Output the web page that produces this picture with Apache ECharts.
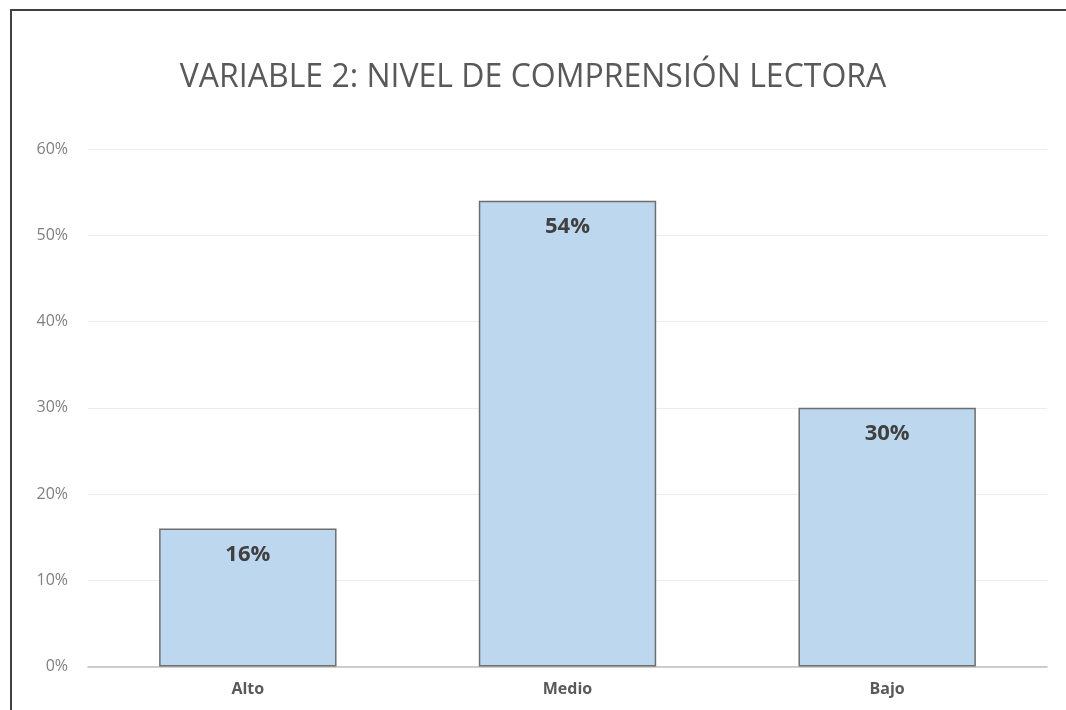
<!DOCTYPE html>
<html>
<head>
<meta charset="utf-8">
<script src="https://cdn.jsdelivr.net/npm/echarts@6/dist/echarts.min.js"></script>
<style>
html,body{margin:0;padding:0;background:#fff;}
#chart{width:1066px;height:710px;}
</style>
</head>
<body>
<div id="chart"></div>
<script>
var titleText = 'VARIABLE 2: NIVEL DE COMPRENSIÓN LECTORA';
var categories = ['Alto', 'Medio', 'Bajo'];
var values = [16, 54, 30];
var yTicks = [0, 10, 20, 30, 40, 50, 60];

var chart = echarts.init(document.getElementById('chart'));
chart.setOption({
  backgroundColor: '#ffffff',
  animation: false,
  title: {
    text: titleText,
    left: 'center',
    top: 57,
    textStyle: {
      fontFamily: 'Open Sans',
      fontSize: 32,
      fontWeight: 'normal',
      color: '#595959'
    }
  },
  graphic: [{
    type: 'polyline',
    shape: { points: [[11, 710], [11, 10], [1066, 10]] },
    style: { stroke: '#404040', lineWidth: 2, fill: null }
  }],
  grid: { left: 88, right: 19, top: 149, bottom: 43.5 },
  xAxis: {
    type: 'category',
    data: categories,
    axisLine: { lineStyle: { color: '#bfbfbf', width: 1.5 } },
    axisTick: { show: false },
    axisLabel: {
      margin: 15,
      color: '#595959',
      fontFamily: 'Open Sans',
      fontSize: 16,
      fontWeight: 'bold'
    }
  },
  yAxis: {
    type: 'value',
    min: yTicks[0],
    max: yTicks[yTicks.length - 1],
    interval: 10,
    axisLine: { show: false },
    axisTick: { show: false },
    splitLine: { lineStyle: { color: '#ececec', width: 1 } },
    axisLabel: {
      margin: 20,
      color: '#7f7f7f',
      fontFamily: 'Open Sans',
      fontSize: 16,
      formatter: function (v) { return v + '%'; }
    }
  },
  series: [{
    type: 'bar',
    data: values,
    barWidth: '55.5%',
    itemStyle: {
      color: '#bdd7ee',
      borderColor: '#6e6e6e',
      borderWidth: 1.5
    },
    label: {
      show: true,
      position: 'insideTop',
      distance: 15,
      formatter: function (p) { return p.value + '%'; },
      color: '#404040',
      fontFamily: 'Open Sans',
      fontSize: 22,
      fontWeight: 'bold'
    }
  }]
});
</script>
</body>
</html>
